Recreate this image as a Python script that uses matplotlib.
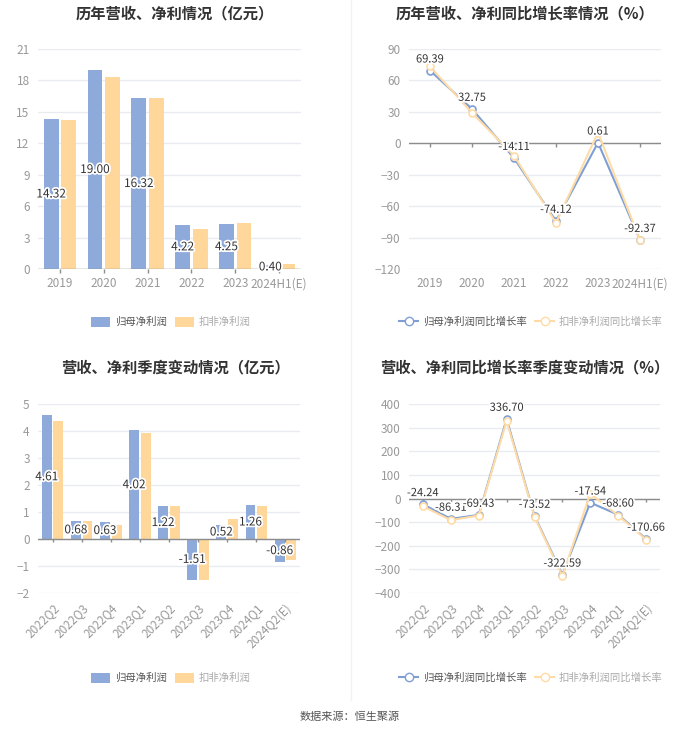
import matplotlib
matplotlib.use("Agg")
import matplotlib.pyplot as plt
import matplotlib.patheffects as pe
from matplotlib.patches import Patch
from matplotlib.lines import Line2D

plt.rcParams['font.family'] = ['Noto Sans CJK SC', 'DejaVu Sans']

# ---- data ----
years = ["2019", "2020", "2021", "2022", "2023", "2024H1(E)"]
net_profit = [14.32, 19.00, 16.32, 4.22, 4.25, 0.40]
deduct_profit = [14.2, 18.3, 16.3, 3.85, 4.36, 0.45]

yoy_net = [69.39, 32.75, -14.11, -74.12, 0.61, -92.37]
yoy_deduct = [73.3, 29.0, -11.8, -76.0, 10.2, -92.6]

quarters = ["2022Q2", "2022Q3", "2022Q4", "2023Q1", "2023Q2",
            "2023Q3", "2023Q4", "2024Q1", "2024Q2(E)"]
q_net = [4.61, 0.68, 0.63, 4.02, 1.22, -1.51, 0.52, 1.26, -0.86]
q_deduct = [4.36, 0.68, 0.53, 3.94, 1.21, -1.51, 0.74, 1.21, -0.79]

q_yoy_net = [-24.24, -86.31, -69.43, 336.70, -73.52, -322.59, -17.54, -68.60, -170.66]
q_yoy_deduct = [-32.6, -92.0, -72.0, 328.0, -77.0, -328.0, 21.0, -72.0, -174.0]

BLUE = "#8eaadb"
ORANGE = "#ffd79b"
LBLUE = "#7f9fd4"
LORANGE = "#ffdca6"
GRID = "#e9ebf1"
AXIS = "#8c8c8c"
TICK = "#999999"

W, H = 700, 734
fig = plt.figure(figsize=(7, 7.34), dpi=100)


def add_ax(x0, x1, ytop, ybot):
    return fig.add_axes([x0 / W, 1 - ybot / H, (x1 - x0) / W, (ybot - ytop) / H])


halo = [pe.withStroke(linewidth=2.5, foreground="white")]


def style(ax, yticks, cats, rot=0):
    ax.set_yticks(yticks)
    ax.set_ylim(yticks[0], yticks[-1])
    ax.set_xlim(-0.5, len(cats) - 0.5)
    for s in ax.spines.values():
        s.set_visible(False)
    ax.grid(axis="y", color=GRID, linewidth=1)
    ax.set_axisbelow(True)
    ax.tick_params(axis="y", length=0, labelsize=8.5, labelcolor=TICK, pad=6)
    ax.set_xticks(range(len(cats)))
    if rot:
        ax.set_xticklabels(cats, rotation=rot, ha="right", va="top",
                           rotation_mode="anchor")
    else:
        ax.set_xticklabels(cats)
    ax.tick_params(axis="x", length=0, labelsize=8.5, labelcolor=TICK, pad=6)
    # zero axis line with small ticks
    ax.axhline(0, color=AXIS, linewidth=1, zorder=3)
    span = yticks[-1] - yticks[0]
    d = span * 4 / 220
    ax.vlines(range(len(cats)), 0, -d, color=AXIS, linewidth=1, zorder=3,
              clip_on=False)


def bar_panel(ax, cats, a, b, yticks, rot=0):
    x = list(range(len(cats)))
    ax.bar([i - 0.2 for i in x], a, width=0.34, color=BLUE, zorder=2)
    ax.bar([i + 0.2 for i in x], b, width=0.34, color=ORANGE, zorder=2)
    style(ax, yticks, cats, rot)
    for i, v in enumerate(a):
        ax.text(i - 0.2, v / 2, f"{v:.2f}", ha="center", va="center",
                fontsize=8.5, color="#333333", path_effects=halo, zorder=5)


def line_panel(ax, cats, a, b, yticks, rot=0):
    x = list(range(len(cats)))
    ax.plot(x, a, color=LBLUE, linewidth=1.5, marker="o", markersize=5,
            markerfacecolor="white", markeredgewidth=1.2, zorder=4)
    ax.plot(x, b, color=LORANGE, linewidth=1.5, marker="o", markersize=5,
            markerfacecolor="white", markeredgewidth=1.2, zorder=5)
    style(ax, yticks, cats, rot)
    for i, v in enumerate(a):
        ax.annotate(f"{v:.2f}", (i, v), xytext=(0, 8), textcoords="offset points",
                    ha="center", va="center", fontsize=8, color="#333333",
                    path_effects=halo, zorder=6)


ax1 = add_ax(38, 301, 49, 269)
bar_panel(ax1, years, net_profit, deduct_profit, [0, 3, 6, 9, 12, 15, 18, 21])

ax2 = add_ax(409, 661, 49, 269)
line_panel(ax2, years, yoy_net, yoy_deduct, [-120, -90, -60, -30, 0, 30, 60, 90])

ax3 = add_ax(38, 300, 404, 593)
bar_panel(ax3, quarters, q_net, q_deduct, [-2, -1, 0, 1, 2, 3, 4, 5], rot=45)

ax4 = add_ax(409, 660, 404, 593)
line_panel(ax4, quarters, q_yoy_net, q_yoy_deduct,
           [-400, -300, -200, -100, 0, 100, 200, 300, 400], rot=45)

# titles
title_kw = dict(ha="center", va="center", fontsize=11, fontweight="bold",
                color="#333333")
fig.text(175 / W, 1 - 13 / H, "历年营收、净利情况（亿元）", **title_kw)
fig.text(525 / W, 1 - 13 / H, "历年营收、净利同比增长率情况（%）", **title_kw)
fig.text(175 / W, 1 - 367 / H, "营收、净利季度变动情况（亿元）", **title_kw)
fig.text(525 / W, 1 - 367 / H, "营收、净利同比增长率季度变动情况（%）", **title_kw)

# legends
bar_handles = [Patch(facecolor=BLUE, edgecolor="none"),
               Patch(facecolor=ORANGE, edgecolor="none")]
bar_labels = ["归母净利润", "扣非净利润"]
line_handles = [Line2D([], [], color=LBLUE, marker="o", markerfacecolor="white",
                       markersize=6, linewidth=1.5),
                Line2D([], [], color=LORANGE, marker="o", markerfacecolor="white",
                       markersize=6, linewidth=1.5)]
line_labels = ["归母净利润同比增长率", "扣非净利润同比增长率"]


def add_legend(handles, labels, cx, cy):
    leg = fig.legend(handles, labels, loc="center", bbox_to_anchor=(cx / W, 1 - cy / H),
                     ncol=2, frameon=False, fontsize=7.5, handlelength=1.8,
                     handleheight=1.1, columnspacing=0.8, handletextpad=0.5)
    leg.get_texts()[0].set_color("#555555")
    leg.get_texts()[1].set_color("#aaaaaa")


add_legend(bar_handles, bar_labels, 171, 322)
add_legend(line_handles, line_labels, 531, 322)
add_legend(bar_handles, bar_labels, 171, 678)
add_legend(line_handles, line_labels, 531, 678)

# divider
fig.add_artist(plt.Line2D([351 / W, 351 / W], [1 - 700 / H, 1.0], color="#f2f2f2",
                          linewidth=1))

fig.text(350 / W, 1 - 717 / H, "数据来源：恒生聚源", ha="center", va="center",
         fontsize=8, color="#555555")

fig.savefig("out.png", dpi=100, facecolor="white")
